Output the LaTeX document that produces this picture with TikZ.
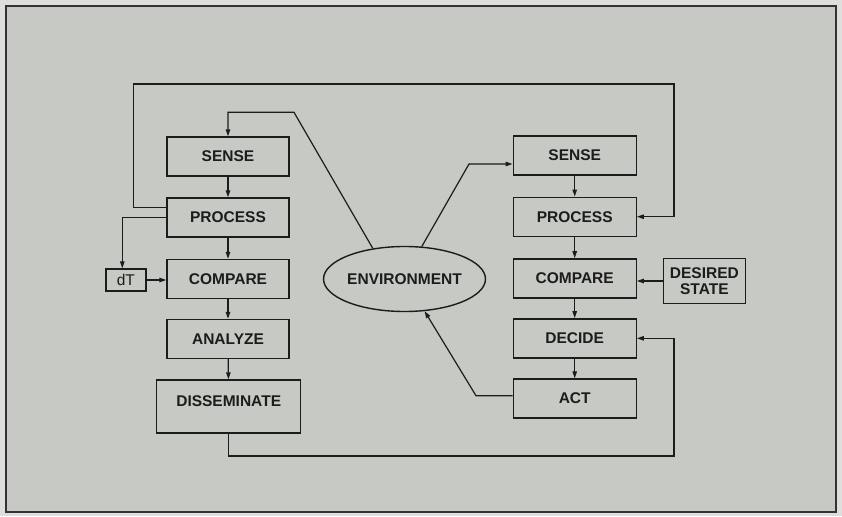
\documentclass[tikz,border=0pt]{standalone}
\usepackage{fontspec}
\setmainfont{Liberation Sans}
\usetikzlibrary{shapes.geometric,arrows.meta}
\definecolor{bg}{RGB}{199,201,196}
\definecolor{outer}{RGB}{222,223,220}
\definecolor{ink}{RGB}{28,28,28}
\tikzset{
  blk/.style={draw=ink, line width=1.4pt, rectangle, minimum width=122pt, minimum height=39pt, inner sep=0pt, font=\fontsize{15.5}{17}\selectfont\bfseries, text=ink},
  arr/.style={-{Triangle[length=7pt,width=4.5pt]}, line width=1.2pt, draw=ink},
  lin/.style={line width=1.2pt, draw=ink}
}
\begin{document}
\begin{tikzpicture}[x=1pt,y=-1pt]
\useasboundingbox (0,0) rectangle (842,516);
\fill[outer] (0,0) rectangle (842,516);
\draw[fill=bg, draw=ink!90, line width=2.2pt] (6,6) rectangle (836,512);
% left column
\node[blk] (lsense) at (228,156.5) {SENSE};
\node[blk] (lproc) at (228,217.5) {PROCESS};
\node[blk] (lcomp) at (228,279) {COMPARE};
\node[blk] (lanal) at (228,339) {ANALYZE};
\node[blk, minimum width=144pt, minimum height=53pt, text depth=10pt] (ldiss) at (228.7,406.5) {DISSEMINATE};
\node[blk, minimum width=40pt, minimum height=22pt, font=\fontsize{15.5}{17}\selectfont] (dT) at (125.8,280) {dT};
% environment
\node[draw=ink, line width=1.4pt, ellipse, minimum width=143pt, minimum height=65pt, inner sep=0pt, font=\fontsize{15.5}{17}\selectfont\bfseries, text=ink] (env) at (404.5,279) {ENVIRONMENT};
% right column
\node[blk, minimum width=123pt] (rsense) at (574.7,155.5) {SENSE};
\node[blk, minimum width=123pt] (rproc) at (574.7,216.7) {PROCESS};
\node[blk, minimum width=123pt] (rcomp) at (574.7,278.3) {COMPARE};
\node[blk, minimum width=123pt] (rdec) at (574.7,338.3) {DECIDE};
\node[blk, minimum width=123pt] (ract) at (574.7,398.5) {ACT};
\node[blk, minimum width=82pt, minimum height=45pt, align=center, font=\fontsize{15.5}{16.5}\selectfont\bfseries] (des) at (704.4,281) {DESIRED\\STATE};
% vertical arrows
\draw[arr] (lsense) -- (lproc);
\draw[arr] (lproc) -- (lcomp);
\draw[arr] (lcomp) -- (lanal);
\draw[arr] (lanal) -- (ldiss);
\draw[arr] (rsense) -- (rproc);
\draw[arr] (rproc) -- (rcomp);
\draw[arr] (rcomp) -- (rdec);
\draw[arr] (rdec) -- (ract);
% dT
\coordinate (dtc) at (122.3,217.7);
\draw[arr] (lproc.west |- dtc) -- (dtc) -- (dtc |- dT.north);
\draw[arr] (dT.east) -- (lcomp.west |- dT.east);
% desired state
\draw[arr] (des.west) -- (rcomp.east |- des.west);
% top loop
\coordinate (tl) at (133.3,84);
\coordinate (tr) at (674,84);
\draw[arr] (lproc.west |- 0,207.3) -| (tl) -- (tr) |- (rproc.east);
% bottom loop
\coordinate (bl) at (228.7,456);
\coordinate (br) at (674,456);
\draw[arr] (ldiss.south) -- (bl) -- (br) |- (rdec.east);
% environment to left sense
\coordinate (e1) at (294,112.3);
\draw[arr] (env.136) -- (e1) -| (lsense.north);
% environment to right sense
\coordinate (e2) at (469,164);
\draw[arr] (env.62) -- (e2) -- (rsense.west |- e2);
% act to environment
\coordinate (e3) at (476,395.7);
\draw[arr] (ract.west |- e3) -- (e3) -- (env.-58);
\end{tikzpicture}
\end{document}
